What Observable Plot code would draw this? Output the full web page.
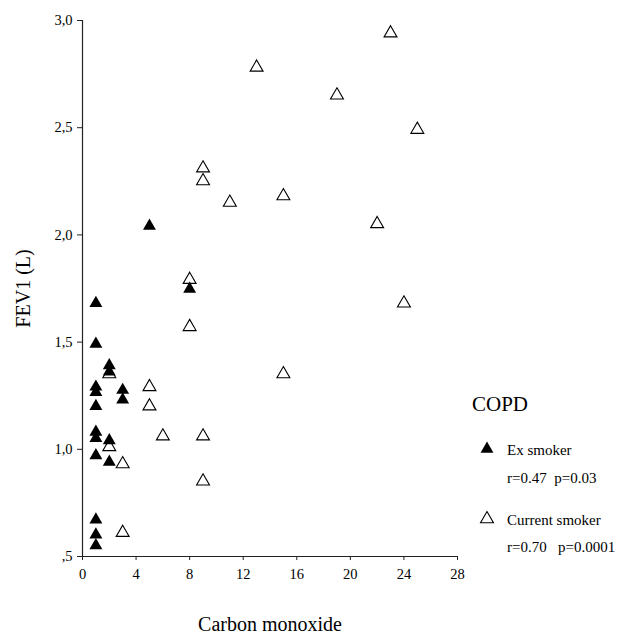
<!DOCTYPE html>
<html>
<head>
<meta charset="utf-8">
<script src="https://cdn.jsdelivr.net/npm/d3@7"></script>
<script src="https://cdn.jsdelivr.net/npm/@observablehq/plot@0.6"></script>
<style>
  html, body { margin: 0; padding: 0; background: white; }
  #wrap { position: relative; width: 617px; height: 635px; overflow: hidden; }
  #wrap, #wrap svg, #wrap text { font-family: "Liberation Serif", "Times New Roman", serif !important; }
  #legend { position: absolute; left: 0; top: 0; pointer-events: none; }
  g[aria-label="x-axis label"] text, g[aria-label="y-axis label"] text { font-size: 20px; }
</style>
</head>
<body>
<div id="wrap"></div>
<script>
// Ex smoker (filled triangles)
const exCO   = [1, 1, 2, 2, 1, 1, 1, 3, 3, 1, 1, 1, 2, 2, 1, 1, 1, 5, 8];
const exFEV1 = [1.69, 1.50, 1.40, 1.37, 1.30, 1.275, 1.21, 1.285, 1.24, 1.09, 1.06, 0.98, 1.05, 0.95, 0.68, 0.61, 0.56, 2.05, 1.757];
// Current smoker (open triangles)
const curCO   = [2, 2, 3, 3, 5, 5, 6, 8, 8, 9, 9, 9, 9, 11, 13, 15, 15, 19, 22, 23, 24, 25];
const curFEV1 = [1.36, 1.02, 0.94, 0.62, 1.30, 1.21, 1.07, 1.80, 1.58, 2.32, 2.26, 1.07, 0.86, 2.16, 2.79, 2.19, 1.36, 2.66, 2.06, 2.95, 1.69, 2.50];
// Axes
const xTicks = [0, 4, 8, 12, 16, 20, 24, 28];
const yTicks = [0.5, 1.0, 1.5, 2.0, 2.5, 3.0];
const yTickLabels = [",5", "1,0", "1,5", "2,0", "2,5", "3,0"];
// Legend
const legendTitle = "COPD";
const groups = ["Ex smoker", "Current smoker"];
const groupStats = ["r=0.47  p=0.03", "r=0.70   p=0.0001"];

const ex = exCO.map((c, i) => ({co: c, fev1: exFEV1[i]}));
const cur = curCO.map((c, i) => ({co: c, fev1: curFEV1[i]}));

const R = 4.8;
const chart = Plot.plot({
  width: 617,
  height: 635,
  marginLeft: 82,
  marginRight: 160,
  marginTop: 20,
  marginBottom: 79,
  style: {fontFamily: "Liberation Serif, serif", fontSize: "14.5px", color: "#000", background: "white"},
  x: {domain: [0, 28]},
  y: {domain: [0.5, 3.0]},
  marks: [
    Plot.ruleX([0], {stroke: "#222", strokeWidth: 1.2}),
    Plot.ruleY([0.5], {stroke: "#222", strokeWidth: 1.2}),
    Plot.axisX({ticks: xTicks, tickSize: 4, tickPadding: 8, label: "Carbon monoxide", labelAnchor: "center", labelArrow: "none", labelOffset: 74, stroke: "#222"}),
    Plot.axisY({ticks: yTicks, tickSize: 5, tickPadding: 5, tickFormat: d => yTickLabels[yTicks.indexOf(d)], label: "FEV1 (L)", labelAnchor: "center", labelArrow: "none", labelOffset: 67, stroke: "#222"}),
    Plot.dot(cur, {x: "co", y: "fev1", symbol: "triangle", r: R, stroke: "#000", strokeWidth: 1.1, fill: "none", dy: 1.9}),
    Plot.dot(ex, {x: "co", y: "fev1", symbol: "triangle", r: R, fill: "#000", stroke: "none", dy: 1.9})
  ]
});
const wrap = document.getElementById("wrap");
wrap.appendChild(chart);

// Legend overlay
const svg = d3.select(wrap).append("svg")
  .attr("id", "legend").attr("width", 617).attr("height", 635);
svg.append("text").attr("x", 472).attr("y", 411).attr("font-size", 21).text(legendTitle);
const sym = d3.symbol(d3.symbolTriangle, Math.PI * R * R);
const rows = [{y: 449, ty: 455, sy: 483, fill: "#000", stroke: "none"}, {y: 519, ty: 525, sy: 552, fill: "none", stroke: "#000"}];
rows.forEach((r, i) => {
  svg.append("path").attr("d", sym()).attr("transform", `translate(487,${r.y})`)
    .attr("fill", r.fill).attr("stroke", r.stroke).attr("stroke-width", 1.1);
  svg.append("text").attr("x", 507).attr("y", r.ty).attr("font-size", 15).text(groups[i]);
  svg.append("text").attr("x", 507).attr("y", r.sy).attr("font-size", 15).style("white-space", "pre").text(groupStats[i]);
});
</script>
</body>
</html>
